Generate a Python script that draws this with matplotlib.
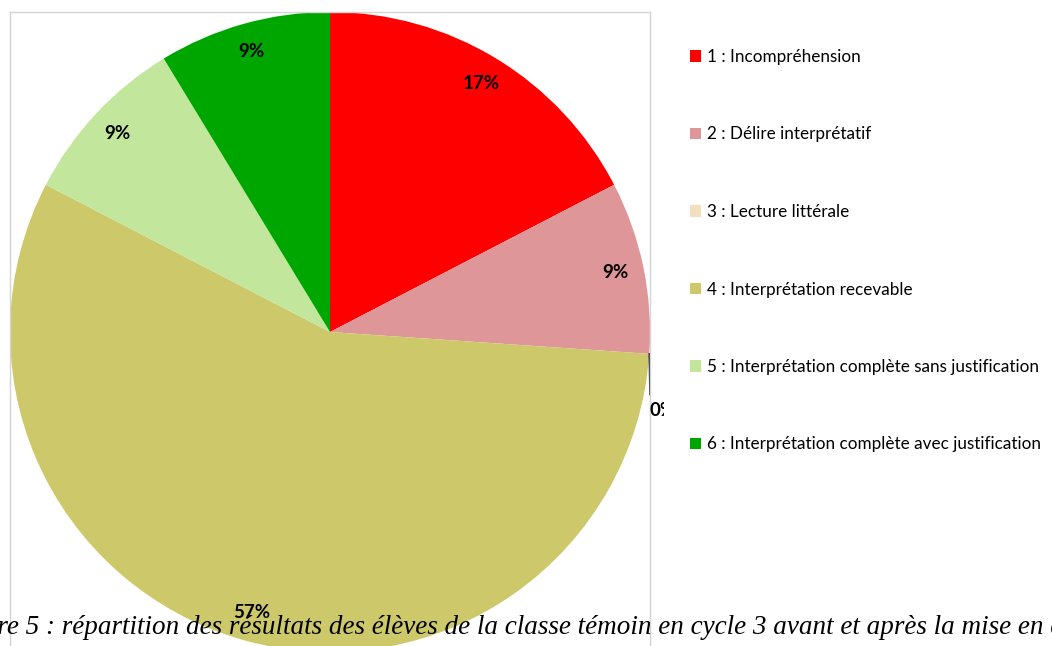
import numpy as np
import matplotlib
matplotlib.use('Agg')
import matplotlib.pyplot as plt
from matplotlib.patches import Patch
from matplotlib.transforms import Bbox

# données : nombre d'élèves par niveau
categories = ['1 : Incompréhension', '2 : Délire interprétatif', '3 : Lecture littérale',
              '4 : Interprétation recevable', '5 : Interprétation complète sans justification',
              '6 : Interprétation complète avec justification']
effectifs = [4, 2, 0, 13, 2, 2]
couleurs = ['#FF0000', '#DF9698', '#F3DFBE', '#CDC96A', '#C2E69B', '#00A600']
legende_txt = "Figure 5 : répartition des résultats des élèves de la classe témoin en cycle 3 avant et après la mise en œuvre du dispositif"

W, H = 1052, 646
fig = plt.figure(figsize=(W / 100, H / 100), dpi=100)
ax = fig.add_axes([10 / W, -6 / H, 640 / W, 640 / H])

wedges, texts, autotexts = ax.pie(effectifs, colors=couleurs, startangle=90, counterclock=False,
                                  autopct='%1.0f%%', pctdistance=0.91, radius=1,
                                  textprops=dict(fontsize=13.5, fontweight='bold', family='Lato'))
ax.set_xlim(-1, 1)
ax.set_ylim(-1, 1)
ax.set_frame_on(True)
for s in ax.spines.values():
    s.set_color('#D4D4D4')
    s.set_linewidth(1)

# étiquette 0% déplacée à l'extérieur avec une ligne de rappel
w0 = wedges[2]
a = np.deg2rad(w0.theta1)
autotexts[2].set_position((1.0, -0.245))
autotexts[2].set_ha('left')
autotexts[2].set_clip_box(Bbox.from_extents(0, 0, 664, H))
autotexts[2].set_clip_on(True)
ax.plot([np.cos(a), 1.0], [np.sin(a), -0.195], color='#303030', lw=1.2, clip_on=False)

handles = [Patch(facecolor=c, edgecolor='none') for c in couleurs]
fig.legend(handles, categories, loc='upper left', bbox_to_anchor=(690 / W, 1 - 49 / H),
           frameon=False, prop=dict(family='Lato', size=12.3), handlelength=0.62, handleheight=0.62,
           handletextpad=0.4, labelspacing=3.6, borderpad=0, borderaxespad=0)

fig.text(-54 / W, 12 / H, legende_txt, family='Liberation Serif', style='italic',
         fontsize=19.5, ha='left', va='baseline')

fig.savefig('out.png', dpi=100)
